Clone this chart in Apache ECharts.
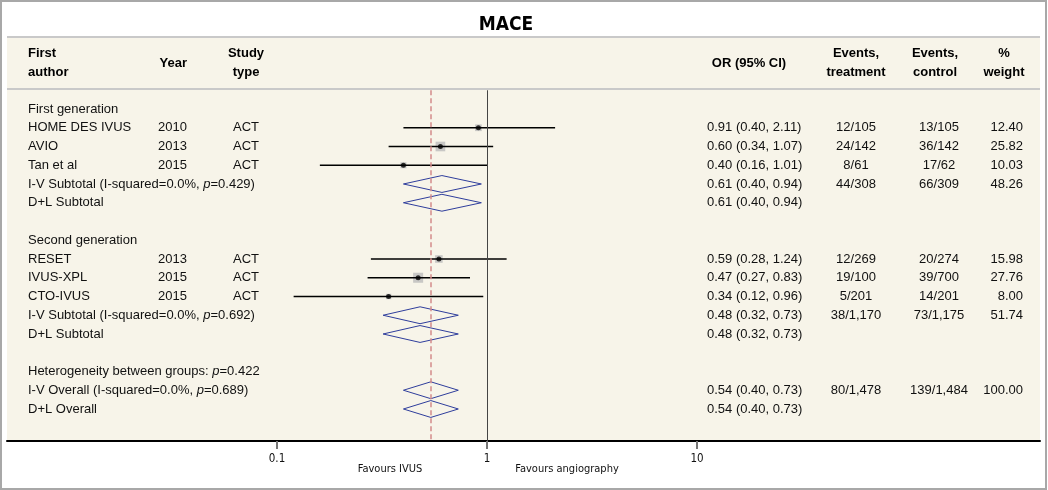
<!DOCTYPE html>
<html><head><meta charset="utf-8">
<script src="https://cdn.jsdelivr.net/npm/echarts@6/dist/echarts.min.js"></script>
<style>html,body{margin:0;padding:0;background:#fff}#c{width:1048px;height:490px}</style>
</head><body><div id="c"></div>
<script>
// ---------- data ----------
const titleText = 'MACE';
const rowLabels = [
  'First generation', 'HOME DES IVUS', 'AVIO', 'Tan et al',
  'I-V Subtotal (I-squared=0.0%, {i|p}=0.429)', 'D+L Subtotal', '',
  'Second generation', 'RESET', 'IVUS-XPL', 'CTO-IVUS',
  'I-V Subtotal (I-squared=0.0%, {i|p}=0.692)', 'D+L Subtotal', '',
  'Heterogeneity between groups: {i|p}=0.422',
  'I-V Overall (I-squared=0.0%, {i|p}=0.689)', 'D+L Overall'
];
const studyRows = [1, 2, 3, 8, 9, 10];
const studyYears = ['2010', '2013', '2015', '2013', '2015', '2015'];
const studyTypes = ['ACT', 'ACT', 'ACT', 'ACT', 'ACT', 'ACT'];
const studyOR = [0.91, 0.60, 0.40, 0.59, 0.47, 0.34];
const studyLo = [0.40, 0.34, 0.16, 0.28, 0.27, 0.12];
const studyHi = [2.11, 1.07, 1.01, 1.24, 0.83, 0.96];
const studyWeight = [12.40, 25.82, 10.03, 15.98, 27.76, 8.00];
const pooledRows = [4, 5, 11, 12, 15, 16];
const pooledOR = [0.61, 0.61, 0.48, 0.48, 0.54, 0.54];
const pooledLo = [0.40, 0.40, 0.32, 0.32, 0.40, 0.40];
const pooledHi = [0.94, 0.94, 0.73, 0.73, 0.73, 0.73];
const ciText = ['', '0.91 (0.40, 2.11)', '0.60 (0.34, 1.07)', '0.40 (0.16, 1.01)', '0.61 (0.40, 0.94)', '0.61 (0.40, 0.94)', '',
  '', '0.59 (0.28, 1.24)', '0.47 (0.27, 0.83)', '0.34 (0.12, 0.96)', '0.48 (0.32, 0.73)', '0.48 (0.32, 0.73)', '',
  '', '0.54 (0.40, 0.73)', '0.54 (0.40, 0.73)'];
const eventsTreatment = ['', '12/105', '24/142', '8/61', '44/308', '', '',
  '', '12/269', '19/100', '5/201', '38/1,170', '', '', '', '80/1,478', ''];
const eventsControl = ['', '13/105', '36/142', '17/62', '66/309', '', '',
  '', '20/274', '39/700', '14/201', '73/1,175', '', '', '', '139/1,484', ''];
const weightText = ['', '12.40', '25.82', '10.03', '48.26', '', '',
  '', '15.98', '27.76', '8.00', '51.74', '', '', '', '100.00', ''];
const headerLines = [['First', 'author'], ['Year'], ['Study', 'type'], ['OR (95% CI)'],
  ['Events,', 'treatment'], ['Events,', 'control'], ['%', 'weight']];
const overallOR = 0.54;
const nullValue = 1;
const tickValues = [0.1, 1, 10];
const tickLabels = ['0.1', '1', '10'];
const favoursLeft = 'Favours IVUS';
const favoursRight = 'Favours angiography';

// ---------- derived ----------
const yearCol = rowLabels.map(() => '');
const typeCol = rowLabels.map(() => '');
studyRows.forEach((r, k) => { yearCol[r] = studyYears[k]; typeCol[r] = studyTypes[k]; });

const FONT = '"Liberation Sans", Arial, sans-serif';
const NARROW = '"Liberation Sans Narrow", "Arial Narrow", "DejaVu Sans Condensed", sans-serif';
const TXT = '#111';

const cols = [
  { arr: rowLabels, x: 28, align: 'left' },
  { arr: yearCol, x: 187, align: 'right' },
  { arr: typeCol, x: 246, align: 'center' },
  { arr: ciText, x: 707, align: 'left' },
  { arr: eventsTreatment, x: 856, align: 'center' },
  { arr: eventsControl, x: 939, align: 'center' },
  { arr: weightText, x: 1023, align: 'right' }
];
const headerX = [
  { x: 28, align: 'left' }, { x: 187, align: 'right' }, { x: 246, align: 'center' },
  { x: 749, align: 'center' }, { x: 856, align: 'center' }, { x: 935, align: 'center' },
  { x: 1004, align: 'center' }
];

const chart = echarts.init(document.getElementById('c'), null, { renderer: 'canvas' });

const graphics = [
  { type: 'rect', z: -10, shape: { x: 7, y: 37, width: 1033, height: 404 }, style: { fill: '#f7f4e9' } },
  { type: 'line', z: -5, shape: { x1: 7, y1: 37, x2: 1040, y2: 37 }, style: { stroke: '#c9c9c9', lineWidth: 2 } },
  { type: 'line', z: -5, shape: { x1: 7, y1: 89, x2: 1040, y2: 89 }, style: { stroke: '#c9c9c9', lineWidth: 2 } },
  { type: 'rect', z: 50, shape: { x: 1, y: 1, width: 1045, height: 488 }, style: { fill: 'none', stroke: '#a8a8a8', lineWidth: 2 } },
  { type: 'text', z: 50, style: { text: titleText, x: 506, y: 25, align: 'center', verticalAlign: 'middle',
      fontFamily: NARROW, fontWeight: 'bold', fontSize: 19, fill: '#000' } },
  { type: 'text', z: 50, style: { text: favoursLeft, x: 390, y: 469, align: 'center', verticalAlign: 'middle',
      fontFamily: NARROW, fontSize: 11, fill: TXT } },
  { type: 'text', z: 50, style: { text: favoursRight, x: 567, y: 469, align: 'center', verticalAlign: 'middle',
      fontFamily: NARROW, fontSize: 11, fill: TXT } }
];
headerLines.forEach((lines, k) => {
  graphics.push({ type: 'text', z: 50, style: {
    text: lines.join('\n'), x: headerX[k].x, y: 63, align: headerX[k].align, verticalAlign: 'middle',
    lineHeight: 19, fontFamily: FONT, fontWeight: 'bold', fontSize: 13, fill: '#000' } });
});

function findTick(v) {
  const i = tickValues.findIndex(t => Math.abs(Math.log10(t) - Math.log10(v)) < 1e-6);
  return i >= 0 ? tickLabels[i] : '';
}

chart.setOption({
  animation: false,
  backgroundColor: '#fff',
  grid: { left: 7, right: 8, top: 90.25, bottom: 49 },
  xAxis: {
    type: 'log', logBase: 10,
    min: Math.pow(10, -480 / 210), max: Math.pow(10, 553 / 210),
    splitLine: { show: false },
    axisLine: { show: true, onZero: false, lineStyle: { color: '#000', width: 2 } },
    axisTick: { show: true, customValues: tickValues, length: 8, lineStyle: { color: '#777', width: 2 } },
    axisLabel: { customValues: tickValues, formatter: findTick, margin: 12, fontSize: 11.5,
      fontFamily: NARROW, color: TXT }
  },
  yAxis: { type: 'value', inverse: true, min: -1, max: 17.707, show: false },
  graphic: graphics,
  series: [
    {
      type: 'scatter', name: 'weight', symbol: 'rect', z: 2, silent: true,
      data: studyRows.map((r, k) => [studyOR[k], r, studyWeight[k]]),
      symbolSize: v => 1.9 * Math.sqrt(v[2]),
      itemStyle: { color: '#bcbcbc' },
      markLine: {
        silent: true, symbol: 'none', label: { show: false },
        data: [
          { xAxis: overallOR, lineStyle: { color: '#d38b8b', type: [5, 3], width: 1.5 } },
          { xAxis: nullValue, lineStyle: { color: '#444', type: 'solid', width: 1 } }
        ]
      }
    },
    {
      type: 'custom', name: 'ci', z: 3, silent: true,
      encode: { x: [0, 1], y: 2 },
      data: studyRows.map((r, k) => [studyLo[k], studyHi[k], r]),
      renderItem: (params, api) => {
        const p1 = api.coord([api.value(0), api.value(2)]);
        const p2 = api.coord([api.value(1), api.value(2)]);
        return { type: 'line', shape: { x1: p1[0], y1: p1[1], x2: p2[0], y2: p2[1] },
          style: { stroke: '#000', lineWidth: 1.5 } };
      }
    },
    {
      type: 'scatter', name: 'point', symbol: 'circle', symbolSize: 5, z: 4, silent: true,
      data: studyRows.map((r, k) => [studyOR[k], r]),
      itemStyle: { color: '#000' }
    },
    {
      type: 'custom', name: 'pooled', z: 4, silent: true,
      encode: { x: [0, 1, 2], y: 3 },
      data: pooledRows.map((r, k) => [pooledOR[k], pooledLo[k], pooledHi[k], r]),
      renderItem: (params, api) => {
        const or = api.value(0), lo = api.value(1), hi = api.value(2), r = api.value(3);
        const pts = [api.coord([lo, r]), api.coord([or, r - 0.45]), api.coord([hi, r]), api.coord([or, r + 0.45])];
        return { type: 'polygon', shape: { points: pts },
          style: { fill: 'none', stroke: '#2e3d9c', lineWidth: 1 } };
      }
    },
    {
      type: 'custom', name: 'table', z: 5, silent: true, clip: false,
      encode: { x: 0, y: 1 },
      data: rowLabels.map((_, i) => [1, i]),
      renderItem: (params, api) => {
        const i = api.value(1);
        const y = api.coord([1, i])[1];
        const children = cols.filter(c => c.arr[i]).map(c => ({
          type: 'text',
          style: {
            text: c.arr[i], x: c.x, y: y, align: c.align, verticalAlign: 'middle',
            fontFamily: FONT, fontSize: 13, fill: TXT,
            rich: { i: { fontStyle: 'italic', fontFamily: FONT, fontSize: 13, fill: TXT } }
          }
        }));
        return { type: 'group', children: children };
      }
    }
  ]
});
</script>
</body></html>
